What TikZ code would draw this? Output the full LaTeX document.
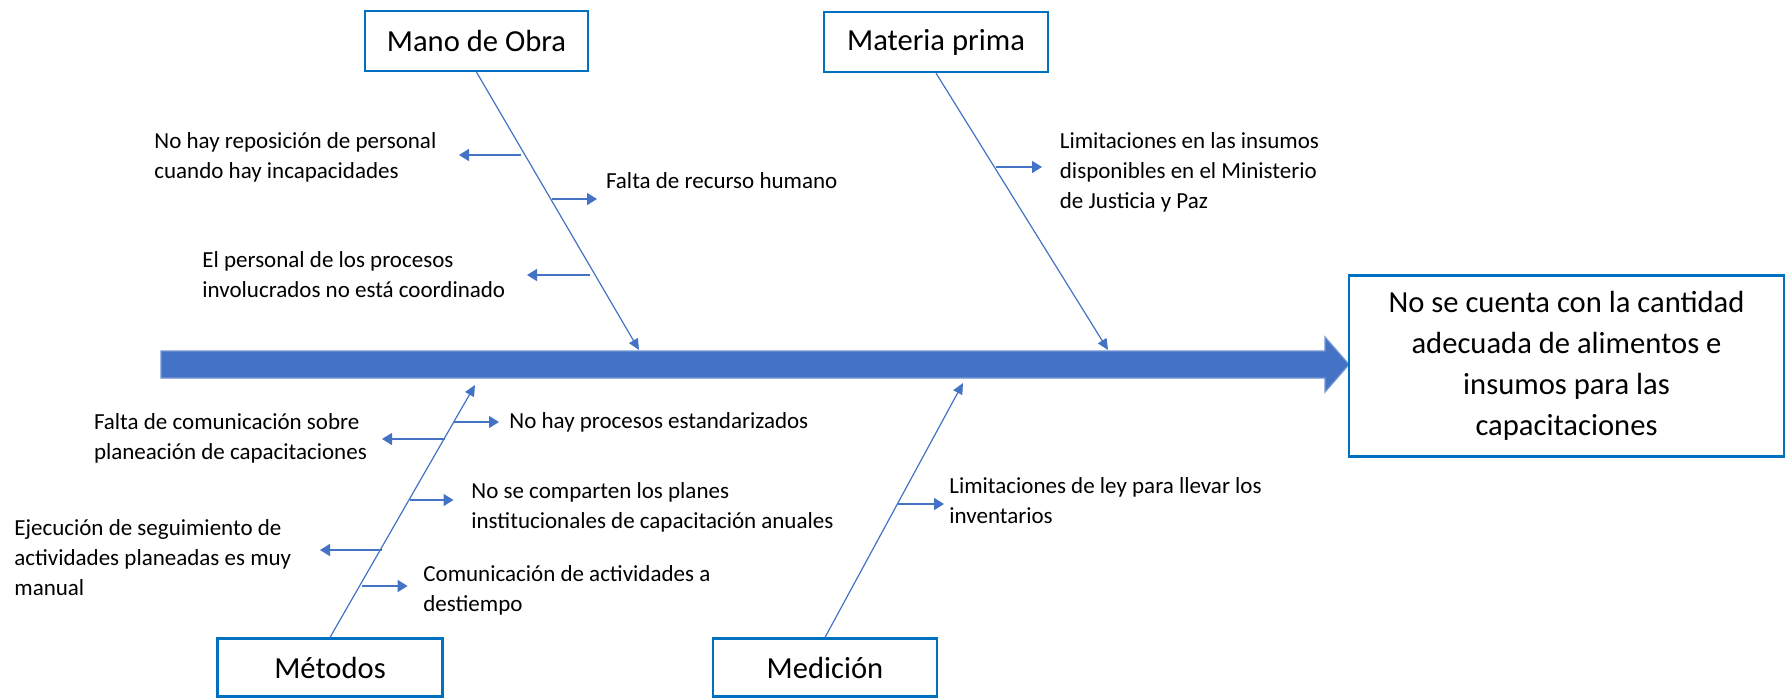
\documentclass[tikz,border=0pt]{standalone}
\usepackage{fontspec}
\setmainfont{Carlito}
\usetikzlibrary{arrows.meta}

\definecolor{spineblue}{HTML}{4472C4}
\definecolor{boxblue}{HTML}{0070C0}

\tikzset{
  catbox/.style={draw=boxblue, line width=1.1pt, fill=white, minimum height=30pt,
    inner sep=0pt, font=\fontsize{15.3}{20.5}\selectfont},
  bone/.style={draw=spineblue, line width=0.6pt, -{Triangle[length=5.5pt,width=5pt]}},
  cause/.style={draw=spineblue, line width=0.8pt, -{Triangle[length=5pt,width=6pt]}},
  causetxt/.style={anchor=base west, align=left, inner sep=0pt,
    font=\fontsize{11.5}{15}\selectfont},
}

\begin{document}
\begin{tikzpicture}[x=0.5pt, y=-0.5pt]
\useasboundingbox (0,0) rectangle (1792,697);

% Spine arrow
\filldraw[fill=spineblue, draw=spineblue!75!white, line width=0.6pt]
  (161,351) -- (1325,351) -- (1325,337) -- (1349,364.5) -- (1325,392)
  -- (1325,378) -- (161,378) -- cycle;

% Effect box
\node[catbox, minimum width=217.5pt, minimum height=90.5pt, align=center] (efecto)
  at (1566.5,366) {No se cuenta con la cantidad\\adecuada de alimentos e\\insumos para las\\capacitaciones};

% Category boxes
\node[catbox, minimum width=111.5pt] (mano) at (476.5,41) {Mano de Obra};
\node[catbox, minimum width=112pt] (materia) at (936,42) {Materia prima};
\node[catbox, minimum width=112.5pt, minimum height=29pt] (metodos) at (330,667.5) {Métodos};
\node[catbox, minimum width=112pt, minimum height=29pt] (medicion) at (825,667.5) {Medición};

% Bones
\coordinate (manotip) at (639,350);
\coordinate (materiatip) at (1108,350);
\coordinate (metodostip) at (475,385);
\coordinate (mediciontip) at (963,383);
\draw[bone] (mano.south) -- (manotip);
\draw[bone] (materia.south) -- (materiatip);
\draw[bone] (metodos.north) -- (metodostip);
\draw[bone] (medicion.north) -- (mediciontip);

% Mano de Obra causes (base = last line)
\node[causetxt] (repos) at (154,178) {No hay reposición de personal\\cuando hay incapacidades};
\node[causetxt] (recurso) at (605.6,188) {Falta de recurso humano};
\node[causetxt] (coord) at (202,297) {El personal de los procesos\\involucrados no está coordinado};
\coordinate (m1) at (521,155);   \coordinate (m1e) at (459,155);
\coordinate (m2) at (552,199);   \coordinate (m2e) at (597,199);
\coordinate (m3) at (590,275);   \coordinate (m3e) at (527,275);
\draw[cause] (m1) -- (m1e);
\draw[cause] (m2) -- (m2e);
\draw[cause] (m3) -- (m3e);

% Materia prima causes
\node[causetxt] (insumos) at (1059.5,208) {Limitaciones en las insumos\\disponibles en el Ministerio\\de Justicia y Paz};
\coordinate (p1) at (996,167);   \coordinate (p1e) at (1042,167);
\draw[cause] (p1) -- (p1e);

% Metodos causes
\node[causetxt] (estand) at (509,428) {No hay procesos estandarizados};
\node[causetxt] (comun) at (93.6,459) {Falta de comunicación sobre\\planeación de capacitaciones};
\node[causetxt] (planes) at (471,528) {No se comparten los planes\\institucionales de capacitación anuales};
\node[causetxt] (ejec) at (14,595) {Ejecución de seguimiento de\\actividades planeadas es muy\\manual};
\node[causetxt] (destiempo) at (423,611) {Comunicación de actividades a\\destiempo};
\coordinate (t1) at (454,422);   \coordinate (t1e) at (499,422);
\coordinate (t2) at (445,439);   \coordinate (t2e) at (382,439);
\coordinate (t3) at (410,500);   \coordinate (t3e) at (453.5,500);
\coordinate (t4) at (382,550);   \coordinate (t4e) at (320,550);
\coordinate (t5) at (362,586);   \coordinate (t5e) at (407.6,586);
\draw[cause] (t1) -- (t1e);
\draw[cause] (t2) -- (t2e);
\draw[cause] (t3) -- (t3e);
\draw[cause] (t4) -- (t4e);
\draw[cause] (t5) -- (t5e);

% Medicion causes
\node[causetxt] (ley) at (949,523) {Limitaciones de ley para llevar los\\inventarios};
\coordinate (d1) at (898,504);   \coordinate (d1e) at (944,504);
\draw[cause] (d1) -- (d1e);
\end{tikzpicture}
\end{document}
